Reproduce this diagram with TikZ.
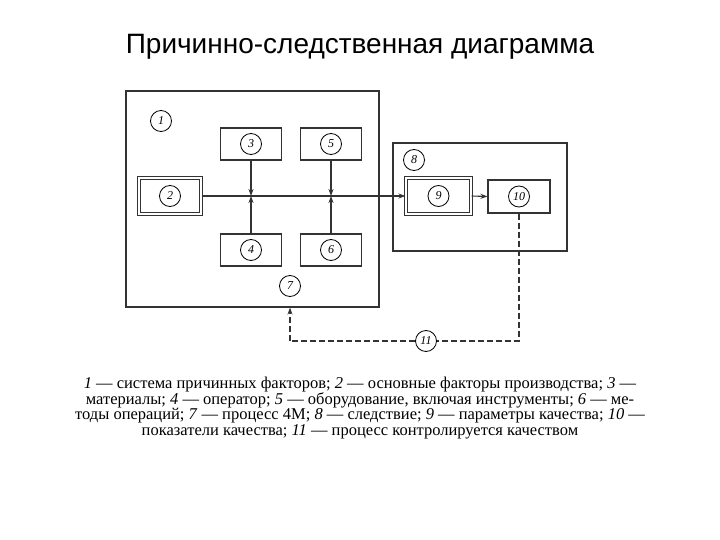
\documentclass[tikz,border=0pt]{standalone}
\usepackage{fontspec}
\setmainfont{Liberation Serif}
\newfontfamily\titlefont{Liberation Sans}
\usetikzlibrary{arrows.meta}
\begin{document}
\begin{tikzpicture}[x=1pt,y=-1pt,
  ln/.style={line width=1.1pt,draw=black!80},
  bx/.style={ln,draw,minimum width=61pt,minimum height=32pt,inner sep=0pt},
  dbx/.style={ln,draw,double,double distance=2pt,minimum width=62pt,minimum height=36pt,inner sep=0pt},
  num/.style={draw,circle,line width=0.8pt,minimum size=21pt,inner sep=0pt,font=\itshape\fontsize{12}{12}\selectfont},
  arr/.style={ln,-{Stealth[length=7pt,width=5pt]}},
  dsh/.style={ln,dash pattern=on 6pt off 3pt}]
\useasboundingbox (0,0) rectangle (720,540);
\node[font=\titlefont\fontsize{28}{32}\selectfont] (title) at (360,47) {Причинно-следственная диаграмма};
\node[ln,draw,minimum width=253pt,minimum height=216pt,inner sep=0pt] (b1) at (252.5,199) {};
\node[num] (n1) at (161,121) {1};
\node[dbx] (b2) at (170,196) {};
\node[num] (n2) at (170,196) {2};
\node[bx] (b3) at (251,144) {}; \node[num] (n3) at (251,144) {3};
\node[bx] (b5) at (331,144) {}; \node[num] (n5) at (331,144) {5};
\node[bx] (b4) at (251,250) {}; \node[num] (n4) at (251,250) {4};
\node[bx] (b6) at (331,250) {}; \node[num] (n6) at (331,250) {6};
\node[num] (n7) at (290,286) {7};
\node[ln,draw,minimum width=174pt,minimum height=108pt,inner sep=0pt] (b8) at (480,197) {};
\node[num] (n8) at (414,160) {8};
\node[dbx,minimum width=65pt] (b9) at (438.5,196) {};
\node[num] (n9) at (438.5,196) {9};
\node[bx,minimum width=62pt,minimum height=33pt] (b10) at (519,196.5) {};
\node[num] (n10) at (519,196.5) {10};
\node[num,fill=white] (n11) at (426,341) {11};
\coordinate (c3) at (b3.south |- b2.east);
\coordinate (c5) at (b5.south |- b2.east);
\coordinate (d1) at (b10.south |- n11);
\coordinate (d2) at (n7 |- n11);
\coordinate (d3) at (n7 |- b1.south);
\draw[ln] (b2.east) -- (c3);
\draw[arr] (b2.east) -- (b9.west);
\draw[arr] (b3.south) -- (c3);
\draw[arr] (b4.north) -- (c3);
\draw[arr] (b5.south) -- (c5);
\draw[arr] (b6.north) -- (c5);
\draw[arr] (b9.east) -- (b10.west);
\draw[dsh] (b10.south) -- (d1) -- (n11.east);
\draw[dsh] (n11.west) -- (d2);
\draw[dsh,-{Stealth[length=7pt,width=5pt]}] (d2) -- (d3);
\node[align=center,font=\fontsize{16.5}{15.5}\selectfont] (cap) at (360,408)
{\textit{1} — система причинных факторов; \textit{2} — основные факторы производства; \textit{3} —\\
материалы; \textit{4} — оператор; \textit{5} — оборудование, включая инструменты; \textit{6} — ме-\\
тоды операций; \textit{7} — процесс 4М; \textit{8} — следствие; \textit{9} — параметры качества; \textit{10} —\\
показатели качества; \textit{11} — процесс контролируется качеством};
\end{tikzpicture}
\end{document}
